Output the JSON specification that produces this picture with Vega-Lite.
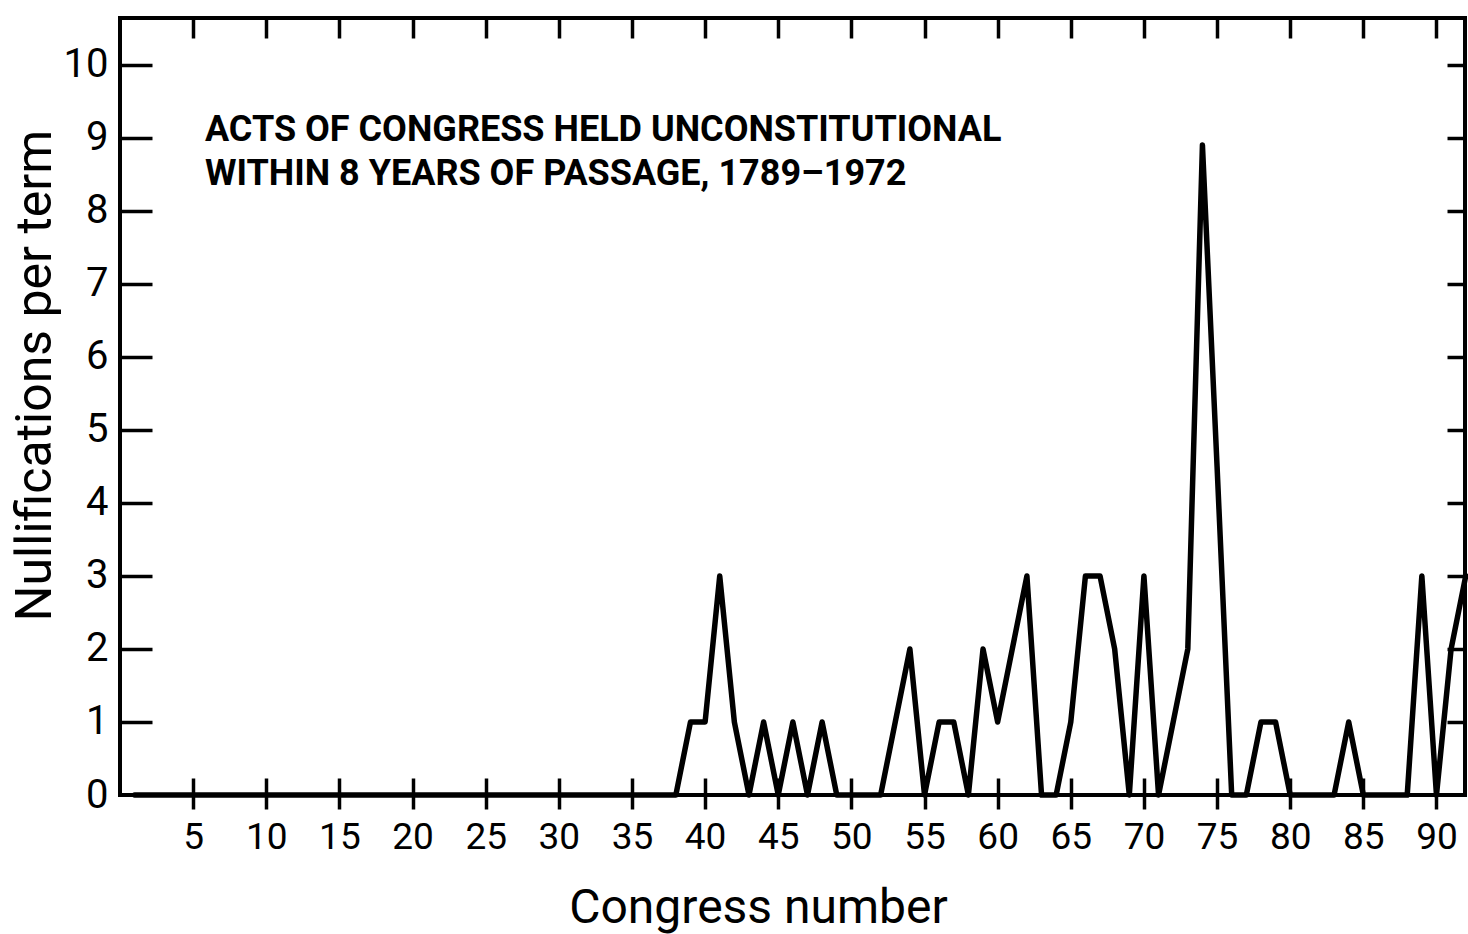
{
  "$schema": "https://vega.github.io/schema/vega-lite/v6.json",
  "width": 1345,
  "height": 777,
  "autosize": {"type": "none"},
  "padding": {"left": 120, "top": 18, "right": 3, "bottom": 139},
  "background": "white",
  "config": {
    "view": {"stroke": "black", "strokeWidth": 4},
    "axis": {"domain": false, "grid": false, "tickColor": "black", "tickWidth": 3.5, "labelColor": "black", "titleColor": "black", "labelFont": "Roboto", "titleFont": "Roboto"}
  },
  "data": {"values": [
    {"congress": 1, "nullifications": 0}, {"congress": 2, "nullifications": 0}, {"congress": 3, "nullifications": 0}, {"congress": 4, "nullifications": 0},
    {"congress": 5, "nullifications": 0}, {"congress": 6, "nullifications": 0}, {"congress": 7, "nullifications": 0}, {"congress": 8, "nullifications": 0},
    {"congress": 9, "nullifications": 0}, {"congress": 10, "nullifications": 0}, {"congress": 11, "nullifications": 0}, {"congress": 12, "nullifications": 0},
    {"congress": 13, "nullifications": 0}, {"congress": 14, "nullifications": 0}, {"congress": 15, "nullifications": 0}, {"congress": 16, "nullifications": 0},
    {"congress": 17, "nullifications": 0}, {"congress": 18, "nullifications": 0}, {"congress": 19, "nullifications": 0}, {"congress": 20, "nullifications": 0},
    {"congress": 21, "nullifications": 0}, {"congress": 22, "nullifications": 0}, {"congress": 23, "nullifications": 0}, {"congress": 24, "nullifications": 0},
    {"congress": 25, "nullifications": 0}, {"congress": 26, "nullifications": 0}, {"congress": 27, "nullifications": 0}, {"congress": 28, "nullifications": 0},
    {"congress": 29, "nullifications": 0}, {"congress": 30, "nullifications": 0}, {"congress": 31, "nullifications": 0}, {"congress": 32, "nullifications": 0},
    {"congress": 33, "nullifications": 0}, {"congress": 34, "nullifications": 0}, {"congress": 35, "nullifications": 0}, {"congress": 36, "nullifications": 0},
    {"congress": 37, "nullifications": 0}, {"congress": 38, "nullifications": 0}, {"congress": 39, "nullifications": 1}, {"congress": 40, "nullifications": 1},
    {"congress": 41, "nullifications": 3}, {"congress": 42, "nullifications": 1}, {"congress": 43, "nullifications": 0}, {"congress": 44, "nullifications": 1},
    {"congress": 45, "nullifications": 0}, {"congress": 46, "nullifications": 1}, {"congress": 47, "nullifications": 0}, {"congress": 48, "nullifications": 1},
    {"congress": 49, "nullifications": 0}, {"congress": 50, "nullifications": 0}, {"congress": 51, "nullifications": 0}, {"congress": 52, "nullifications": 0},
    {"congress": 53, "nullifications": 1}, {"congress": 54, "nullifications": 2}, {"congress": 55, "nullifications": 0}, {"congress": 56, "nullifications": 1},
    {"congress": 57, "nullifications": 1}, {"congress": 58, "nullifications": 0}, {"congress": 59, "nullifications": 2}, {"congress": 60, "nullifications": 1},
    {"congress": 61, "nullifications": 2}, {"congress": 62, "nullifications": 3}, {"congress": 63, "nullifications": 0}, {"congress": 64, "nullifications": 0},
    {"congress": 65, "nullifications": 1}, {"congress": 66, "nullifications": 3}, {"congress": 67, "nullifications": 3}, {"congress": 68, "nullifications": 2},
    {"congress": 69, "nullifications": 0}, {"congress": 70, "nullifications": 3}, {"congress": 71, "nullifications": 0}, {"congress": 72, "nullifications": 1},
    {"congress": 73, "nullifications": 2}, {"congress": 74, "nullifications": 8.9}, {"congress": 75, "nullifications": 4.5}, {"congress": 76, "nullifications": 0},
    {"congress": 77, "nullifications": 0}, {"congress": 78, "nullifications": 1}, {"congress": 79, "nullifications": 1}, {"congress": 80, "nullifications": 0},
    {"congress": 81, "nullifications": 0}, {"congress": 82, "nullifications": 0}, {"congress": 83, "nullifications": 0}, {"congress": 84, "nullifications": 1},
    {"congress": 85, "nullifications": 0}, {"congress": 86, "nullifications": 0}, {"congress": 87, "nullifications": 0}, {"congress": 88, "nullifications": 0},
    {"congress": 89, "nullifications": 3}, {"congress": 90, "nullifications": 0}, {"congress": 91, "nullifications": 2}, {"congress": 92, "nullifications": 3}
  ]},
  "resolve": {"axis": {"x": "independent", "y": "independent"}},
  "layer": [
    {
      "mark": {"type": "line", "color": "black", "strokeWidth": 5.5, "strokeJoin": "round", "strokeCap": "round"},
      "encoding": {
        "x": {"field": "congress", "type": "quantitative", "scale": {"domain": [0, 91.95], "nice": false, "zero": false},
          "axis": {"orient": "bottom", "values": [5,10,15,20,25,30,35,40,45,50,55,60,65,70,75,80,85,90], "ticks": false, "labelFontSize": 37, "labelPadding": 24, "labelFlush": false, "labelOverlap": false,
            "title": "Congress number", "titleFontSize": 48, "titleFontWeight": "normal", "titleX": 638, "titleY": 127, "titleBaseline": "alphabetic"}},
        "y": {"field": "nullifications", "type": "quantitative", "scale": {"domain": [0, 10.64], "nice": false, "zero": false},
          "axis": {"orient": "left", "values": [0,1,2,3,4,5,6,7,8,9,10], "ticks": false, "labelFontSize": 40, "labelPadding": 12, "labelFlush": false, "labelOverlap": false,
            "title": "Nullifications per term", "titleFontSize": 50, "titleFontWeight": "normal", "titleX": -70, "titleY": 357, "titleBaseline": "alphabetic"}}
      }
    },
    {
      "mark": {"type": "point", "opacity": 0},
      "encoding": {
        "x": {"field": "congress", "type": "quantitative", "scale": {"domain": [0, 91.95], "nice": false, "zero": false},
          "axis": {"orient": "bottom", "values": [5,10,15,20,25,30,35,40,45,50,55,60,65,70,75,80,85,90], "labels": false, "ticks": true, "tickSize": 14, "title": null}},
        "y": {"field": "nullifications", "type": "quantitative", "scale": {"domain": [0, 10.64], "nice": false, "zero": false},
          "axis": {"orient": "left", "values": [1,2,3,4,5,6,7,8,9,10], "labels": false, "ticks": true, "tickSize": -32, "title": null}}
      }
    },
    {
      "mark": {"type": "point", "opacity": 0},
      "encoding": {
        "x": {"field": "congress", "type": "quantitative", "scale": {"domain": [0, 91.95], "nice": false, "zero": false},
          "axis": {"orient": "bottom", "values": [5,10,15,20,25,30,35,40,45,50,55,60,65,70,75,80,85,90], "labels": false, "ticks": true, "tickSize": -17, "title": null}},
        "y": {"field": "nullifications", "type": "quantitative", "scale": {"domain": [0, 10.64], "nice": false, "zero": false},
          "axis": {"orient": "right", "values": [1,2,3,4,5,6,7,8,9,10], "labels": false, "ticks": true, "tickSize": -18, "title": null}}
      }
    },
    {
      "mark": {"type": "point", "opacity": 0},
      "encoding": {
        "x": {"field": "congress", "type": "quantitative", "scale": {"domain": [0, 91.95], "nice": false, "zero": false},
          "axis": {"orient": "top", "values": [5,10,15,20,25,30,35,40,45,50,55,60,65,70,75,80,85,90], "labels": false, "ticks": true, "tickSize": -20, "title": null}},
        "y": {"field": "nullifications", "type": "quantitative", "scale": {"domain": [0, 10.64], "nice": false, "zero": false}, "axis": null}
      }
    },
    {
      "data": {"values": [{}]},
      "mark": {"type": "text", "font": "Roboto", "fontSize": 36, "fontWeight": "bold", "align": "left", "baseline": "alphabetic", "lineHeight": 44, "color": "black",
        "text": ["ACTS OF CONGRESS HELD UNCONSTITUTIONAL", "WITHIN 8 YEARS OF PASSAGE, 1789–1972"]},
      "encoding": {
        "x": {"datum": 5.81, "type": "quantitative", "scale": {"domain": [0, 91.95], "nice": false, "zero": false}, "axis": null},
        "y": {"datum": 8.95, "type": "quantitative", "scale": {"domain": [0, 10.64], "nice": false, "zero": false}, "axis": null}
      }
    }
  ]
}
